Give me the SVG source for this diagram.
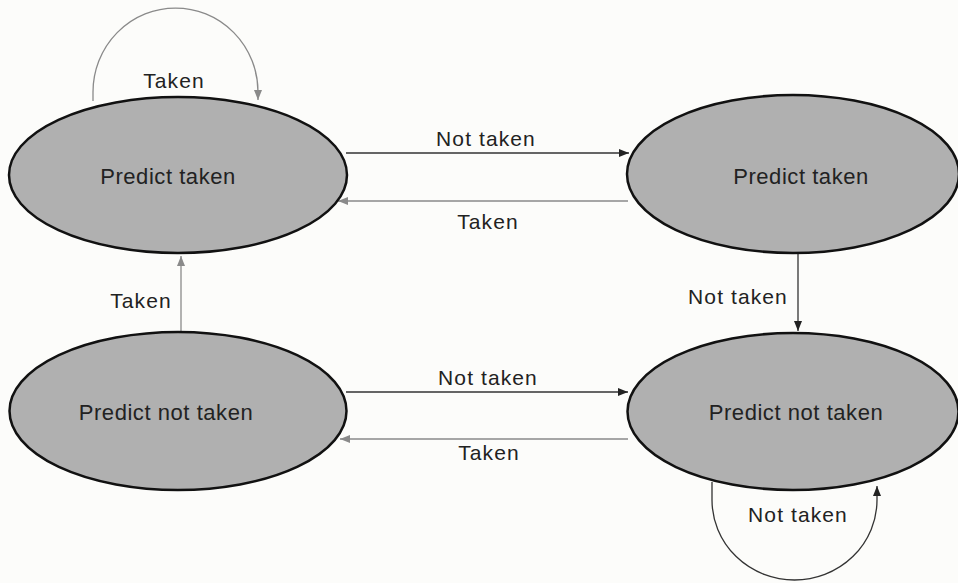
<svg xmlns="http://www.w3.org/2000/svg" width="958" height="583" viewBox="0 0 958 583">
<defs>
<marker id="ad" viewBox="0 0 10 10" refX="10" refY="5" markerWidth="10" markerHeight="10" markerUnits="userSpaceOnUse" orient="auto"><path d="M0,1 L10,5 L0,9 z" fill="#222"/></marker>
<marker id="ag" viewBox="0 0 10 10" refX="10" refY="5" markerWidth="10" markerHeight="10" markerUnits="userSpaceOnUse" orient="auto"><path d="M0,1 L10,5 L0,9 z" fill="#8a8a8a"/></marker>
</defs>
<style>
.st{fill:#b0b0b0;stroke:#111;stroke-width:2.5}
text{font-family:"Liberation Sans",Arial,sans-serif;fill:#222;text-anchor:middle}
.nl{font-size:22px;letter-spacing:0.55px}
.el{font-size:21px;letter-spacing:1.1px}
.nt{fill:none;stroke:#333;stroke-width:1.3}
.tk{fill:none;stroke:#8a8a8a;stroke-width:1.3}
</style>
<rect width="958" height="583" fill="#fcfcfa"/>
<g id="connectors">
<path class="tk" d="M93,101 L93,92 A82.5,84 0 0 1 258,92 L258,100" marker-end="url(#ag)"/>
<path class="nt" d="M346,153 L629,153" marker-end="url(#ad)"/>
<path class="tk" d="M628,201 L338,201" marker-end="url(#ag)"/>
<path class="tk" d="M181,332 L181,256" marker-end="url(#ag)"/>
<path class="nt" d="M798,253 L798,331" marker-end="url(#ad)"/>
<path class="nt" d="M346,392 L628,392" marker-end="url(#ad)"/>
<path class="tk" d="M628,439 L340,439" marker-end="url(#ag)"/>
<path class="nt" d="M712,482 L712,500 A82.5,80 0 0 0 877,500 L877,486" marker-end="url(#ad)"/>
<text class="el" x="174" y="88">Taken</text>
<text class="el" x="486" y="146">Not taken</text>
<text class="el" x="488" y="229">Taken</text>
<text class="el" x="141" y="308">Taken</text>
<text class="el" x="738" y="304">Not taken</text>
<text class="el" x="488" y="385">Not taken</text>
<text class="el" x="489" y="460">Taken</text>
<text class="el" x="798" y="522">Not taken</text>
</g>
<g id="s1"><ellipse class="st" cx="178" cy="175" rx="169" ry="78"/><text class="nl" x="168" y="184">Predict taken</text></g>
<g id="s2"><ellipse class="st" cx="793" cy="174" rx="166" ry="79"/><text class="nl" x="801" y="184">Predict taken</text></g>
<g id="s3"><ellipse class="st" cx="178" cy="411" rx="168.5" ry="79"/><text class="nl" x="166" y="420">Predict not taken</text></g>
<g id="s4"><ellipse class="st" cx="793" cy="411.5" rx="165.5" ry="78.5"/><text class="nl" x="796" y="420">Predict not taken</text></g>
</svg>
